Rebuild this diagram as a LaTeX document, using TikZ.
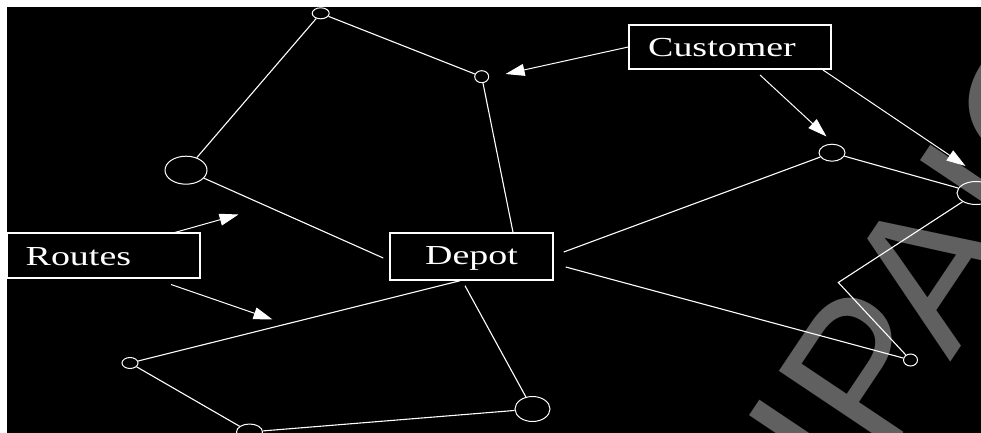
\documentclass[tikz,border=0pt]{standalone}
\usepackage{fontspec}
\setmainfont{Liberation Serif}
\newfontfamily\wmfont{Liberation Sans}
\usetikzlibrary{shapes.geometric,arrows.meta,calc}
\definecolor{wmgray}{RGB}{96,96,96}
\tikzset{
  nd/.style 2 args={ellipse,draw=white,line width=1pt,inner sep=0pt,minimum width=#1,minimum height=#2},
  boxnode/.style={draw=white,line width=1.5pt,inner sep=0pt,minimum width=#1},
  lbl/.style={text=white,inner sep=0pt,anchor=base west,font=\fontsize{27.5}{30}\selectfont},
  route/.style={draw=white,line width=1.1pt},
  ptr/.style={draw=white,line width=1pt,-{Triangle[length=19pt,width=12pt]}},
}
\newcommand{\stretchtxt}[1]{\scalebox{1.38}[1]{#1}}
\begin{document}
\begin{tikzpicture}[x=1pt,y=-1pt]
\useasboundingbox (0,0) rectangle (981,433);
\clip (0,0) rectangle (981,433);
\fill[white] (0,0) rectangle (981,433);
\fill[black] (7,7) rectangle (981,433);
% watermark
\node[rotate=56.2,anchor=base west,inner sep=0pt,text=wmgray,font=\wmfont\fontsize{200}{200}\selectfont] (wm) at (853.1,507.8) {IPAIC};
% customers
\node[nd={17}{11}] (A) at (320.7,13.3) {};
\node[nd={14}{12}] (B) at (481.7,76.7) {};
\node[nd={42}{28}] (C) at (186,170.2) {};
\node[nd={26}{17}] (D) at (832,152.7) {};
\node[nd={38}{23}] (E) at (976,193) {};
\node[nd={14}{12}] (F) at (910.5,360) {};
\node[nd={16}{11}] (H) at (130,363) {};
\node[nd={26}{16}] (I) at (249.5,432) {};
\node[nd={35}{25}] (J) at (532.5,409) {};
\coordinate (G) at (838.3,282.5);
% boxes
\node[boxnode=202pt,minimum height=44pt] (cust) at (730,47) {};
\node[boxnode=193pt,minimum height=45pt] (routes) at (103.5,255.5) {};
\node[boxnode=163pt,minimum height=47pt] (depot) at (471.5,256.5) {};
\node[lbl] (custlbl) at (648,56.7) {\stretchtxt{Customer}};
\node[lbl] (routeslbl) at (25.5,265) {\stretchtxt{Routes}};
\node[lbl] (depotlbl) at (425,264.3) {\stretchtxt{Depot}};
% routes
\draw[route] ([xshift=-6pt,yshift=-1.5pt]depot.west) -- (C) -- (A) -- (B) -- ([xshift=41.5pt]depot.north);
\draw[route] ([xshift=10pt,yshift=4.5pt]depot.east) -- (D) -- (E) -- (G) -- (F) -- ([xshift=12pt,yshift=-10.5pt]depot.east);
\draw[route] ([xshift=-11.5pt]depot.south) -- (H) -- (I) -- (J) -- ([xshift=-6.5pt,yshift=-5pt]depot.south);
% pointers
\coordinate (tB) at (505.6,74);
\coordinate (c2) at (760,75);
\coordinate (tD) at (826.5,136.5);
\coordinate (c3) at (823,70);
\coordinate (tE) at (965.5,166);
\coordinate (r1) at (173,233);
\coordinate (tR1) at (238.5,214.5);
\coordinate (r2) at (171,284.5);
\coordinate (tR2) at (272.5,319.5);
\draw[ptr] (cust.west) -- (tB);
\draw[ptr] (c2) -- (tD);
\draw[ptr] (c3) -- (tE);
\draw[ptr] (r1) -- (tR1);
\draw[ptr] (r2) -- (tR2);
\end{tikzpicture}
\end{document}
